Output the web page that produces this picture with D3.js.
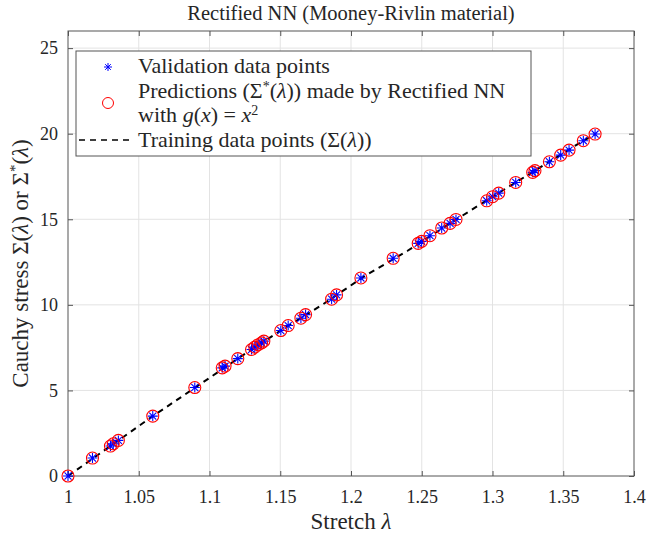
<!DOCTYPE html>
<html>
<head>
<meta charset="utf-8">
<script src="https://cdn.jsdelivr.net/npm/d3@7"></script>
<style>
  body { margin: 0; background: #fff; }
  text { font-family: "Liberation Serif", "DejaVu Serif", serif; fill: #262626; }
</style>
</head>
<body>
<div class="chart"></div>
<script>
// stretch values of the validation points
var lambdaVals = [1.0000, 1.0173, 1.0300, 1.0320, 1.0356, 1.0599, 1.0896, 1.1090, 1.1110, 1.1200,
    1.1297, 1.1320, 1.1344, 1.1368, 1.1384, 1.1504, 1.1556, 1.1646, 1.1679, 1.1863,
    1.1898, 1.2070, 1.2298, 1.2475, 1.2499, 1.2558, 1.2641, 1.2700, 1.2742, 1.2959,
    1.3001, 1.3044, 1.3164, 1.3284, 1.3300, 1.3402, 1.3482, 1.3541, 1.3642, 1.3725];
// validation stresses (blue stars)
var validStress = [0.00, 1.05, 1.75, 1.88, 2.08, 3.50, 5.17, 6.32, 6.42, 6.86,
    7.39, 7.53, 7.67, 7.78, 7.88, 8.50, 8.79, 9.22, 9.43, 10.33,
    10.58, 11.57, 12.72, 13.59, 13.71, 14.04, 14.49, 14.76, 14.99, 16.08,
    16.32, 16.53, 17.15, 17.74, 17.84, 18.36, 18.75, 19.04, 19.59, 19.98];
// NN predictions (red circles) - on top of the validation points
var predStress = [0.00, 1.05, 1.75, 1.88, 2.08, 3.50, 5.17, 6.32, 6.42, 6.86,
    7.39, 7.53, 7.67, 7.78, 7.88, 8.50, 8.79, 9.22, 9.43, 10.33,
    10.58, 11.57, 12.72, 13.59, 13.71, 14.04, 14.49, 14.76, 14.99, 16.08,
    16.32, 16.53, 17.15, 17.74, 17.84, 18.36, 18.75, 19.04, 19.59, 19.98];
// training curve (dashed line)
var trainLambda = [1.0, 1.03, 1.06, 1.09, 1.12, 1.15, 1.18, 1.21, 1.24, 1.27, 1.30, 1.33, 1.36, 1.3725];
var trainStress = [0.0, 1.75, 3.50, 5.17, 6.86, 8.48, 10.02, 11.70, 13.16, 14.76, 16.32, 17.84, 19.38, 19.98];

var xTicks = [1, 1.05, 1.1, 1.15, 1.2, 1.25, 1.3, 1.35, 1.4];
var yTicks = [0, 5, 10, 15, 20, 25];

var width = 648, height = 534;
var margin = {left: 68, right: 14, top: 31, bottom: 58};

var svg = d3.select(".chart").append("svg")
    .attr("width", width)
    .attr("height", height);

var x = d3.scaleLinear().domain([1, 1.4]).range([margin.left, width - margin.right]);
var y = d3.scaleLinear().domain([0, 26]).range([height - margin.bottom, margin.top]);

//grid
svg.append("g").selectAll("line").data(xTicks.slice(1, -1)).join("line")
    .attr("x1", d => x(d)).attr("x2", d => x(d))
    .attr("y1", y(0)).attr("y2", y(26))
    .attr("stroke", "#e3e3e3");
svg.append("g").selectAll("line").data(yTicks.slice(1)).join("line")
    .attr("x1", x(1)).attr("x2", x(1.4))
    .attr("y1", d => y(d)).attr("y2", d => y(d))
    .attr("stroke", "#e3e3e3");

//axes (ticks pointing inwards, box on)
var axisColor = "#555";
function styleAxis(g) {
    g.select(".domain").remove();
    g.selectAll(".tick line").attr("stroke", axisColor);
    g.selectAll(".tick text").style("font-size", "18px").attr("fill", "#262626");
}
svg.append("g")
    .attr("transform", `translate(0,${y(0)})`)
    .call(d3.axisBottom(x).tickValues(xTicks).tickFormat(d3.format("")).tickSizeInner(-5).tickPadding(14))
    .call(styleAxis);
svg.append("g")
    .attr("transform", `translate(0,${y(26)})`)
    .call(d3.axisTop(x).tickValues(xTicks).tickFormat("").tickSizeInner(-5))
    .call(styleAxis);
svg.append("g")
    .attr("transform", `translate(${x(1)},0)`)
    .call(d3.axisLeft(y).tickValues(yTicks).tickSizeInner(-5).tickPadding(10))
    .call(styleAxis);
svg.append("g")
    .attr("transform", `translate(${x(1.4)},0)`)
    .call(d3.axisRight(y).tickValues(yTicks).tickFormat("").tickSizeInner(-5))
    .call(styleAxis);

svg.append("rect")
    .attr("x", x(1)).attr("y", y(26))
    .attr("width", x(1.4) - x(1)).attr("height", y(0) - y(26))
    .attr("fill", "none").attr("stroke", axisColor);

//training line
var line = d3.line().x(d => x(d[0])).y(d => y(d[1]));
svg.append("path")
    .datum(trainLambda.map((l, i) => [l, trainStress[i]]))
    .attr("d", line)
    .attr("fill", "none")
    .attr("stroke", "#000")
    .attr("stroke-width", 2)
    .attr("stroke-dasharray", "6,5");

//star marker like matlab '*'
function star(r) {
    var p = "";
    for (var a = 0; a < 4; a++) {
        var t = a * Math.PI / 4;
        var dx = r * Math.cos(t), dy = r * Math.sin(t);
        p += `M${-dx},${-dy}L${dx},${dy}`;
    }
    return p;
}

svg.append("g").selectAll("path").data(lambdaVals).join("path")
    .attr("transform", (d, i) => `translate(${x(d)},${y(validStress[i])})`)
    .attr("d", star(5))
    .attr("stroke", "#0000ff")
    .attr("stroke-width", 1.1);

svg.append("g").selectAll("circle").data(lambdaVals).join("circle")
    .attr("cx", d => x(d))
    .attr("cy", (d, i) => y(predStress[i]))
    .attr("r", 6)
    .attr("fill", "none")
    .attr("stroke", "#ff0000")
    .attr("stroke-width", 1.1);

//title and labels
svg.append("text")
    .attr("x", (x(1) + x(1.4)) / 2).attr("y", 20)
    .attr("text-anchor", "middle")
    .style("font-size", "20.5px")
    .text("Rectified NN (Mooney-Rivlin material)");

var xl = svg.append("text")
    .attr("x", (x(1) + x(1.4)) / 2).attr("y", 529)
    .attr("text-anchor", "middle")
    .style("font-size", "23px");
xl.append("tspan").text("Stretch ");
xl.append("tspan").attr("font-style", "italic").text("λ");

var yl = svg.append("text")
    .attr("transform", `translate(28,${(y(0) + y(26)) / 2 + 10}) rotate(-90)`)
    .attr("text-anchor", "middle")
    .style("font-size", "23px");
yl.append("tspan").text("Cauchy stress Σ(");
yl.append("tspan").attr("font-style", "italic").text("λ");
yl.append("tspan").text(") or Σ");
yl.append("tspan").attr("dy", -8).style("font-size", "15px").text("*");
yl.append("tspan").attr("dy", 8).text("(");
yl.append("tspan").attr("font-style", "italic").text("λ");
yl.append("tspan").text(")");

//legend
var lg = svg.append("g");
lg.append("rect")
    .attr("x", 76).attr("y", 51).attr("width", 455).attr("height", 105)
    .attr("fill", "#fff").attr("stroke", "#555");

lg.append("path").attr("transform", "translate(108,67)").attr("d", star(4))
    .attr("stroke", "#0000ff");
lg.append("circle").attr("cx", 108).attr("cy", 103).attr("r", 5.5)
    .attr("fill", "none").attr("stroke", "#ff0000");
lg.append("line").attr("x1", 79).attr("x2", 132).attr("y1", 140).attr("y2", 140)
    .attr("stroke", "#000").attr("stroke-width", 1.5).attr("stroke-dasharray", "6,5");

var fs = "22px", sup = "14px";
lg.append("text").attr("x", 138).attr("y", 73).style("font-size", fs).text("Validation data points");

var t2 = lg.append("text").attr("x", 138).attr("y", 98).style("font-size", fs);
t2.append("tspan").text("Predictions (Σ");
t2.append("tspan").attr("dy", -7).style("font-size", sup).text("*");
t2.append("tspan").attr("dy", 7).text("(");
t2.append("tspan").attr("font-style", "italic").text("λ");
t2.append("tspan").text(")) made by Rectified NN");

var t3 = lg.append("text").attr("x", 138).attr("y", 122).style("font-size", fs);
t3.append("tspan").text("with ");
t3.append("tspan").attr("font-style", "italic").text("g");
t3.append("tspan").text("(");
t3.append("tspan").attr("font-style", "italic").text("x");
t3.append("tspan").text(") = ");
t3.append("tspan").attr("font-style", "italic").text("x");
t3.append("tspan").attr("dy", -7).style("font-size", sup).text("2");

var t4 = lg.append("text").attr("x", 138).attr("y", 147).style("font-size", fs);
t4.append("tspan").text("Training data points (Σ(");
t4.append("tspan").attr("font-style", "italic").text("λ");
t4.append("tspan").text("))");
</script>
</body>
</html>
